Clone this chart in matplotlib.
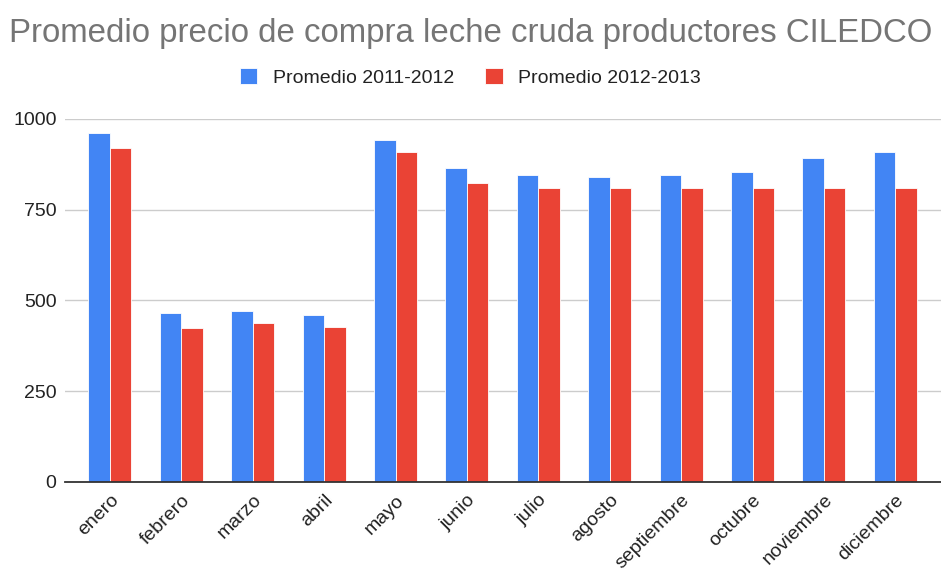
import matplotlib
matplotlib.use("Agg")
import matplotlib.pyplot as plt
import numpy as np

months = ["enero", "febrero", "marzo", "abril", "mayo", "junio", "julio",
          "agosto", "septiembre", "octubre", "noviembre", "diciembre"]
prom_2011_2012 = [960, 466, 470, 460, 942, 864, 845, 841, 845, 854, 891, 910]
prom_2012_2013 = [919, 423, 438, 428, 910, 823, 809, 809, 809, 809, 809, 809]
series_labels = ["Promedio 2011-2012", "Promedio 2012-2013"]
yticks = [0, 250, 500, 750, 1000]

plt.rcParams['font.family'] = ['Liberation Sans', 'DejaVu Sans']

fig = plt.figure(figsize=(9.41, 5.69), dpi=100)
ax = fig.add_axes([0.069, 0.153, 0.931, 0.638])

x = np.arange(len(months))
w = 0.3
ax.bar(x - w/2, prom_2011_2012, w, color="#4285F4", edgecolor="white", linewidth=0.6,
       label=series_labels[0], zorder=3)
ax.bar(x + w/2, prom_2012_2013, w, color="#EA4335", edgecolor="white", linewidth=0.6,
       label=series_labels[1], zorder=3)

ax.set_xlim(-0.63, 11.64)
ax.set_ylim(0, 1000)
ax.set_yticks(yticks)
ax.set_yticklabels([str(v) for v in yticks], fontsize=14, color="#222222")
ax.yaxis.grid(True, color="#cccccc", linewidth=1, zorder=0)
ax.set_xticks(x)
ax.set_xticklabels(months, rotation=45, ha="right", rotation_mode="anchor",
                   fontsize=14, color="#222222")
ax.tick_params(axis="both", length=0)
ax.tick_params(axis="y", pad=6)
ax.tick_params(axis="x", pad=7)
for s in ["top", "right", "left"]:
    ax.spines[s].set_visible(False)
ax.spines["bottom"].set_color("#333333")
ax.spines["bottom"].set_linewidth(1.3)
ax.spines["bottom"].set_zorder(4)

fig.text(0.5, 0.942, "Promedio precio de compra leche cruda productores CILEDCO",
         ha="center", va="center", fontsize=23.8, color="#757575")

fig.legend(loc="center", bbox_to_anchor=(0.5, 0.864), ncol=2, frameon=False,
           fontsize=14, handlelength=0.9, handleheight=0.9, columnspacing=1.6,
           handletextpad=0.8, labelcolor="#222222")

fig.savefig("out.png", dpi=100)
